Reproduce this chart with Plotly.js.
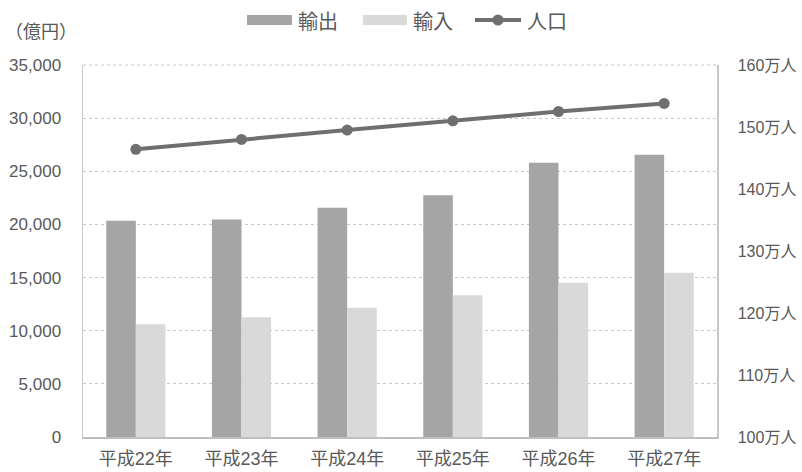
<!DOCTYPE html>
<html>
<head>
<meta charset="utf-8">
<script src="https://cdn.plot.ly/plotly-3.0.1.min.js"></script>
<style>html,body{margin:0;padding:0;background:#fff;}#chart{width:802px;height:472px;}</style>
</head>
<body>
<div id="chart"></div>
<script>
// Data
const categories = ["平成22年", "平成23年", "平成24年", "平成25年", "平成26年", "平成27年"];
const exportsValues = [20350, 20460, 21570, 22740, 25810, 26560];   // 輸出（億円）
const importsValues = [10600, 11260, 12170, 13330, 14520, 15460];   // 輸入（億円）
const populationValues = [146.4, 148.0, 149.5, 151.0, 152.5, 153.8]; // 人口（万人）
const leftTicks = [0, 5000, 10000, 15000, 20000, 25000, 30000, 35000];
const leftTickText = ["0", "5,000", "10,000", "15,000", "20,000", "25,000", "30,000", "35,000"];
const rightTicks = [100, 110, 120, 130, 140, 150, 160];
const rightTickText = ["100万人", "110万人", "120万人", "130万人", "140万人", "150万人", "160万人"];
const seriesNames = ["輸出", "輸入", "人口"];

const FONT = "Liberation Sans, Arial, Noto Sans CJK JP, sans-serif";
const CJK = "Noto Sans CJK JP, sans-serif";
const TXT = "#595959";
const C_EXP = "#a5a5a5", C_IMP = "#d9d9d9", C_POP = "#6f6f6f";

const traces = [
  {type: "bar", name: seriesNames[0], x: categories, y: exportsValues, marker: {color: C_EXP}, showlegend: false, hoverinfo: "skip"},
  {type: "bar", name: seriesNames[1], x: categories, y: importsValues, marker: {color: C_IMP}, showlegend: false, hoverinfo: "skip"},
  {type: "scatter", mode: "lines+markers", name: seriesNames[2], x: categories, y: populationValues, yaxis: "y2",
   line: {color: C_POP, width: 4}, marker: {color: C_POP, size: 11}, showlegend: false, hoverinfo: "skip"}
];

const layout = {
  width: 802, height: 472,
  margin: {l: 83, r: 85, t: 65, b: 35},
  paper_bgcolor: "#fff", plot_bgcolor: "#fff",
  font: {family: FONT, color: TXT, size: 17},
  barmode: "group", bargap: 0.44, bargroupgap: 0,
  showlegend: false,
  xaxis: {
    type: "category", showgrid: false, zeroline: false,
    showline: true, linecolor: "#bfbfbf", linewidth: 1.5,
    ticks: "", tickfont: {size: 18, color: TXT}, ticklabelstandoff: 5
  },
  yaxis: {
    range: [0, 35000], tickvals: leftTicks, ticktext: leftTickText,
    showgrid: true, gridcolor: "#c8c8c8", griddash: "dot", gridwidth: 1,
    zeroline: false, showline: true, linecolor: "#c8c8c8", linewidth: 1.5,
    ticks: "", tickfont: {size: 17, color: TXT}, ticklabelstandoff: 17
  },
  yaxis2: {
    overlaying: "y", side: "right", range: [100, 160], tickvals: rightTicks, ticktext: rightTickText,
    showgrid: false, zeroline: false, showline: true, linecolor: "#c8c8c8", linewidth: 1.5,
    ticks: "", tickfont: {size: 16, color: TXT}, ticklabelstandoff: 16
  },
  annotations: [],
  shapes: [
    // dotted top border of the plot area (at 35,000)
    {type: "line", xref: "paper", yref: "paper", x0: 0, x1: 1, y0: 1, y1: 1, line: {color: "#c8c8c8", width: 1, dash: "dot"}}
  ]
};

const plotW = 802 - 83 - 85, plotH = 472 - 65 - 35;
function px(xp) { return (xp - 83) / plotW; }
function py(yp) { return (472 - 35 - yp) / plotH; }

// axis unit label
layout.annotations.push(
  {xref: "paper", yref: "paper", x: px(3), xanchor: "left", y: py(30), yanchor: "middle",
   text: "（億円）", showarrow: false, font: {size: 18, color: TXT, family: CJK}}
);

// custom legend with wide swatches, as in the reference
const legY = 20;
layout.shapes.push(
  {type: "rect", xref: "paper", yref: "paper", x0: px(247), x1: px(292), y0: py(25), y1: py(15), fillcolor: C_EXP, line: {width: 0}},
  {type: "rect", xref: "paper", yref: "paper", x0: px(363), x1: px(407), y0: py(25), y1: py(15), fillcolor: C_IMP, line: {width: 0}},
  {type: "line", xref: "paper", yref: "paper", x0: px(475), x1: px(521), y0: py(legY), y1: py(legY), line: {color: C_POP, width: 4}},
  {type: "circle", xref: "paper", yref: "paper", x0: px(492.5), x1: px(503.5), y0: py(legY + 5.5), y1: py(legY - 5.5), fillcolor: C_POP, line: {width: 0}}
);
layout.annotations.push(
  {xref: "paper", yref: "paper", x: px(296), xanchor: "left", y: py(legY), yanchor: "middle", text: seriesNames[0], showarrow: false, font: {size: 20, color: TXT, family: CJK}},
  {xref: "paper", yref: "paper", x: px(411), xanchor: "left", y: py(legY), yanchor: "middle", text: seriesNames[1], showarrow: false, font: {size: 20, color: TXT, family: CJK}},
  {xref: "paper", yref: "paper", x: px(525), xanchor: "left", y: py(legY), yanchor: "middle", text: seriesNames[2], showarrow: false, font: {size: 20, color: TXT, family: CJK}}
);

Plotly.newPlot("chart", traces, layout, {displayModeBar: false, staticPlot: true});
</script>
</body>
</html>
